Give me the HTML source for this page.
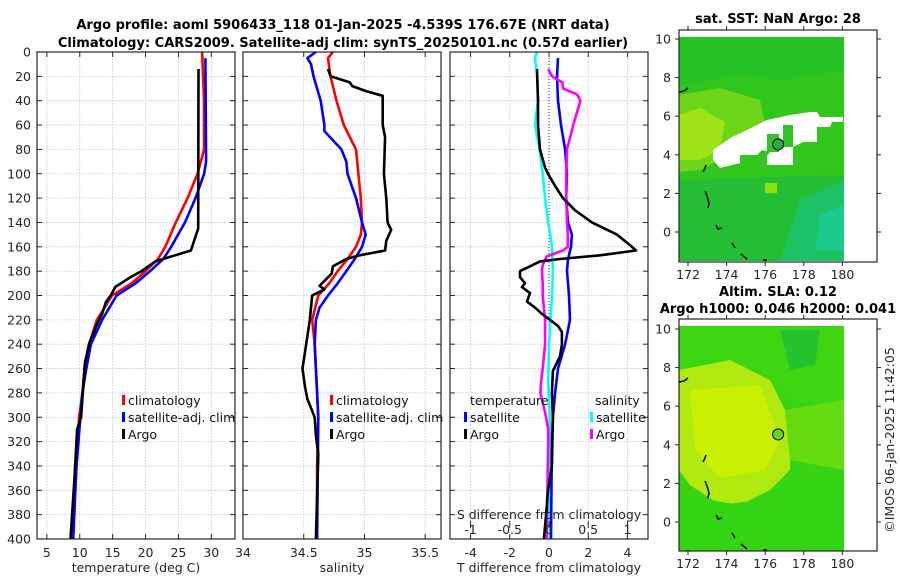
<!DOCTYPE html>
<html><head><meta charset="utf-8">
<style>
html,body{margin:0;padding:0;background:#fff;}
svg{display:block;font-family:"DejaVu Sans","Liberation Sans",sans-serif;}
.t{font-size:12.5px;fill:#262626;}
.b{font-size:13px;font-weight:bold;fill:#000;}
</style></head>
<body>
<svg id="fig" width="900" height="580" viewBox="0 0 900 580">
<text class="b" x="343" y="29" text-anchor="middle">Argo profile: aoml 5906433_118 01-Jan-2025 -4.539S 176.67E (NRT data)</text>
<text class="b" x="343" y="47" text-anchor="middle">Climatology: CARS2009. Satellite-adj clim: synTS_20250101.nc (0.57d earlier)</text>
<text class="b" x="778" y="23" text-anchor="middle">sat. SST: NaN Argo: 28</text>
<text class="b" x="778" y="296" text-anchor="middle">Altim. SLA: 0.12</text>
<text class="b" x="778" y="313" text-anchor="middle">Argo h1000: 0.046 h2000: 0.041</text>
<text class="t" transform="translate(894,440) rotate(-90)" text-anchor="middle">©IMOS 06-Jan-2025 11:42:05</text>
<g id="plots"></g>
<g id="maps"></g>
</svg>
<script>
// ---- Data (depth in m) ----
const depthTicks = [0,20,40,60,80,100,120,140,160,180,200,220,240,260,280,300,320,340,360,380,400];
const tempTicks = [5,10,15,20,25,30];
const salTicks = [34,34.5,35,35.5];
const tdiffTicks = [-4,-2,0,2,4];
const sdiffTicks = [-1,-0.5,0,0.5,1];
const sdiffTickLabels = ['-1','-0.5','0','0.5','1'];

const tClimDepth = [0,40,80,100,120,140,160,170,180,190,200,220,240,260,280,300,340,400];
const tClim      = [28.6,28.9,28.9,27.9,26.4,24.6,23.0,21.9,20.0,17.9,14.9,12.6,11.4,10.7,10.4,9.9,9.5,8.9];
const tSatDepth  = [5,90,100,120,140,160,170,180,190,200,220,240,260,280,300,340,400];
const tSat       = [29.1,29.2,28.9,27.6,26.0,23.9,22.7,20.7,18.5,15.6,13.4,11.7,11.0,10.4,10.1,9.5,9.0];
const tArgoDepth = [14,145,163,168,172,180,185,193,200,205,215,225,240,255,300,310,350,400];
const tArgo      = [28.05,28.0,26.9,23.9,21.5,19.4,17.7,15.4,14.7,14.0,13.4,12.5,11.4,10.8,10.2,9.6,9.2,8.6];

const sClimDepth = [0,5,20,40,60,80,100,120,140,150,160,170,180,190,200,220,240,260,280,300,340,400];
const sClim      = [34.74,34.70,34.72,34.77,34.83,34.93,34.95,34.97,34.98,34.97,34.93,34.86,34.78,34.71,34.62,34.57,34.59,34.60,34.61,34.62,34.61,34.61];
const sSatDepth  = [0,5,10,20,40,60,65,80,90,100,120,140,150,160,170,180,190,200,210,220,240,300,400];
const sSat       = [34.60,34.53,34.56,34.58,34.64,34.67,34.67,34.81,34.85,34.86,34.93,34.98,35.01,34.98,34.92,34.85,34.78,34.70,34.63,34.60,34.59,34.62,34.61];
const sArgoDepth = [14,20,25,28,32,36,60,70,100,120,140,146,155,163,167,170,176,182,188,192,195,200,220,240,260,275,285,300,315,330,400];
const sArgo      = [34.70,34.72,34.88,34.90,35.01,35.15,35.15,35.17,35.16,35.18,35.19,35.22,35.18,35.17,34.96,34.85,34.74,34.73,34.67,34.63,34.67,34.57,34.55,34.52,34.49,34.51,34.53,34.59,34.60,34.62,34.60];

const dTArgoDepth = [14,40,60,80,95,100,110,120,130,140,150,160,163,167,170,172,176,180,185,190,193,198,205,210,215,225,230,240,250,262,280,300,340,360,380,400];
const dTArgo      = [-0.61,-0.56,-0.56,-0.46,-0.2,-0.05,0.31,0.71,1.33,2.19,3.47,4.23,4.44,2.6,0.56,-0.46,-0.97,-1.48,-1.48,-1.22,-1.38,-0.97,-1.12,-0.71,-0.36,0.46,0.66,0.66,0.56,0.2,0.15,0.2,0.15,-0.05,-0.15,-0.26];
const dTSatDepth  = [5,20,40,60,80,100,120,140,150,160,170,180,200,220,240,260,280,300,320,400];
const dTSat       = [0.46,0.41,0.46,0.61,0.82,0.92,0.87,0.97,1.17,1.12,0.97,0.92,1.02,1.07,0.82,0.46,0.31,0.2,0.15,0.1];
const dSSatDepth  = [0,5,20,40,60,80,100,120,140,160,180,200,240,270,300,400];
const dSSat       = [-0.15,-0.18,-0.15,-0.14,-0.18,-0.12,-0.08,-0.05,-0.01,0.04,0.05,0.04,0.0,-0.01,0.01,0.01];
const dSArgoDepth = [14,20,25,30,35,40,60,80,100,120,140,150,160,163,168,175,180,190,200,220,240,260,270,280,296,310,320,400];
const dSArgo      = [-0.01,0.04,0.17,0.18,0.36,0.40,0.31,0.23,0.22,0.22,0.23,0.24,0.24,0.18,-0.03,-0.08,-0.09,-0.08,-0.08,-0.05,-0.05,-0.08,-0.10,-0.11,-0.05,-0.01,-0.01,-0.03];

const lonTicks = [172,174,176,178,180];
const latTicks = [0,2,4,6,8,10];

// ---- helpers ----
const NS='http://www.w3.org/2000/svg';
const plots=document.getElementById('plots');
const maps=document.getElementById('maps');
function mk(tag,attrs,parent){const e=document.createElementNS(NS,tag);for(const k in attrs)e.setAttribute(k,attrs[k]);(parent||plots).appendChild(e);return e;}
const Y0=52,Y1=539;
function yD(d){return Y0+(d/400)*(Y1-Y0);}
function xScale(x0,x1,v0,v1){return v=>x0+(v-v0)/(v1-v0)*(x1-x0);}

const panels=[
 {x0:37,x1:235,v0:3.5,v1:33.6,ticks:tempTicks,name:'temperature-panel'},
 {x0:243,x1:441,v0:34,v1:35.63,ticks:salTicks,name:'salinity-panel'},
 {x0:450,x1:648,v0:-5.05,v1:5.05,ticks:tdiffTicks,name:'difference-panel'}
];
panels.forEach((p,pi)=>{
  p.sx=xScale(p.x0,p.x1,p.v0,p.v1);
  const g=mk('g',{});
  
  
  p.g=g;
  p.ticks.forEach(v=>{const x=p.sx(v);
    const l=mk('line',{x1:x,x2:x,y1:Y0,y2:Y1,stroke:'#b8c4e8','stroke-width':0.8,'stroke-dasharray':'1.5,1.5'},g);
    
    mk('line',{x1:x,x2:x,y1:Y1,y2:Y1-5,stroke:'#262626'},g);mk('line',{x1:x,x2:x,y1:Y0,y2:Y0+5,stroke:'#262626'},g);
    const t=mk('text',{x:x,y:557,'text-anchor':'middle',class:'t'},g);t.textContent=String(v);
    
  });
  depthTicks.forEach(d=>{const y=yD(d);
    const l=mk('line',{x1:p.x0,x2:p.x1,y1:y,y2:y,stroke:'#b8c4e8','stroke-width':0.8,'stroke-dasharray':'1.5,1.5'},g);
    
    mk('line',{x1:p.x0,x2:p.x0+5,y1:y,y2:y,stroke:'#262626'},g);mk('line',{x1:p.x1,x2:p.x1-5,y1:y,y2:y,stroke:'#262626'},g);
    if(pi===0){const t=mk('text',{x:31,y:y+4.5,'text-anchor':'end',class:'t'},g);t.textContent=String(d);
      }
  });
});
const zx=panels[2].sx(0);
mk('line',{x1:zx,x2:zx,y1:Y0,y2:Y1,stroke:'#333','stroke-width':1,'stroke-dasharray':'1,2'},panels[2].g);

function line(p,xs,ds,color,name,scale){
  const sx=scale||p.sx;
  const pts=xs.map((v,i)=>sx(v).toFixed(1)+','+yD(ds[i]).toFixed(1)).join(' ');
  const e=mk('polyline',{points:pts,fill:'none',stroke:color,'stroke-width':2.6,'stroke-linejoin':'round'},p.g);
  
  
}
line(panels[0],tClim,tClimDepth,'#ff0000','temp-climatology-line');
line(panels[0],tSat,tSatDepth,'#0000ff','temp-satellite-line');
line(panels[0],tArgo,tArgoDepth,'#000000','temp-argo-line');
line(panels[1],sClim,sClimDepth,'#ff0000','sal-climatology-line');
line(panels[1],sSat,sSatDepth,'#0000ff','sal-satellite-line');
line(panels[1],sArgo,sArgoDepth,'#000000','sal-argo-line');
const sS=v=>panels[2].sx(v*4);
line(panels[2],dSSat,dSSatDepth,'#00ffff','sdiff-satellite-line',sS);
line(panels[2],dTSat,dTSatDepth,'#0000ff','tdiff-satellite-line');
line(panels[2],dSArgo,dSArgoDepth,'#ff00ff','sdiff-argo-line',sS);
line(panels[2],dTArgo,dTArgoDepth,'#000000','tdiff-argo-line');

sdiffTicks.forEach((v,i)=>{const x=sS(v);
  mk('line',{x1:x,x2:x,y1:521,y2:528,stroke:'#262626'},panels[2].g);
  const t=mk('text',{x:x,y:534,'text-anchor':'middle',class:'t'},panels[2].g);t.textContent=sdiffTickLabels[i];
  
});
{const t=mk('text',{x:549,y:519,'text-anchor':'middle',class:'t'},panels[2].g);t.textContent='S difference from climatology';
 }

panels.forEach(p=>{const r=mk('rect',{x:p.x0,y:Y0,width:p.x1-p.x0,height:Y1-Y0,fill:'none',stroke:'#262626','stroke-width':1.2},p.g);
  });

[['temperature (deg C)',136,'temperature-axis-title'],['salinity',342,'salinity-axis-title'],['T difference from climatology',549,'t-diff-axis-title']].forEach(a=>{
  const t=mk('text',{x:a[1],y:572,'text-anchor':'middle',class:'t'});t.textContent=a[0];
  });

function legend(x,y,color,label,name){
  const g=mk('g',{});
  
  
  mk('rect',{x:x,y:y-10,width:3,height:10,fill:color},g);
  const t=mk('text',{x:x+6,y:y,class:'t',style:'fill:#111'},g);t.textContent=label;
}
legend(122,405,'#ff0000','climatology','legend-temp-climatology');
legend(122,422,'#0000ff','satellite-adj. clim','legend-temp-satellite');
legend(122,439,'#000000','Argo','legend-temp-argo');
legend(330,405,'#ff0000','climatology','legend-sal-climatology');
legend(330,422,'#0000ff','satellite-adj. clim','legend-sal-satellite');
legend(330,439,'#000000','Argo','legend-sal-argo');
{const t=mk('text',{x:470,y:405,class:'t',style:'fill:#111'});t.textContent='temperature';
 
 const t2=mk('text',{x:595,y:405,class:'t',style:'fill:#111'});t2.textContent='salinity';
 }
legend(464,422,'#0000ff','satellite','legend-tdiff-satellite');
legend(464,439,'#000000','Argo','legend-tdiff-argo');
legend(590,422,'#00ffff','satellite','legend-sdiff-satellite');
legend(590,439,'#ff00ff','Argo','legend-sdiff-argo');

// ---- maps ----
function mapPanel(top,lat10y,lat0y,name,base,draw){
  const g=mk('g',{},maps);
  
  
  const lx=v=>688+(v-172)*19.3;
  const ly=v=>lat0y+(v)*(lat10y-lat0y)/10;
  const fy0=top, fy1=top+232;
  mk('rect',{x:679,y:fy0+7,width:165,height:224,fill:base},g);
  draw(g,lx,ly);
  mk('rect',{x:679,y:fy0,width:198,height:232,fill:'none',stroke:'#262626','stroke-width':1.2},g);
  lonTicks.forEach(v=>{const x=lx(v);mk('line',{x1:x,x2:x,y1:fy1,y2:fy1+4,stroke:'#262626'},g);mk('line',{x1:x,x2:x,y1:fy0,y2:fy0-4,stroke:'#262626'},g);
    const t=mk('text',{x:x,y:fy1+17,'text-anchor':'middle',class:'t'},g);t.textContent=String(v);
    });
  latTicks.forEach(v=>{const y=ly(v);mk('line',{x1:679,x2:675,y1:y,y2:y,stroke:'#262626'},g);mk('line',{x1:877,x2:881,y1:y,y2:y,stroke:'#262626'},g);
    const t=mk('text',{x:671,y:y+4.5,'text-anchor':'end',class:'t'},g);t.textContent=String(v);
    });
  [[[679,92],[684,91],[688,88]],[[703,172],[705,168],[706,165]],[[705,191],[707,196],[709,203],[708,208]],[[716,225],[718,229],[722,228]],[[732,243],[735,248]],[[741,254],[747,259]],[[763,260],[767,260]]].forEach(c=>{
    const off=ly(0)-232;
    mk('polyline',{points:c.map(p=>p[0]+','+(p[1]+off)).join(' '),fill:'none',stroke:'#000','stroke-width':1.5},g);});
  const cx=lx(176.67),cy=ly(4.539);
  const c=mk('circle',{cx:cx,cy:cy,r:5.5,fill:'none',stroke:'#111','stroke-width':1.1},g);
  
  return {g,cx,cy};
}
const m1=mapPanel(30,39,232,'sst-map','#30c61c',(g,lx,ly)=>{
  mk('polygon',{points:'679,37 844,37 844,70 780,80 740,75 679,85',fill:'#26c226'},g);
  mk('polygon',{points:'679,95 720,88 760,100 765,125 740,150 700,170 679,172',fill:'#6ed618'},g);
  mk('polygon',{points:'679,115 700,108 725,122 720,150 700,160 679,160',fill:'#9ee218'},g);
  mk('polygon',{points:'679,180 844,175 844,261 679,261',fill:'#24be34'},g);
  mk('polygon',{points:'800,200 844,180 844,261 780,261',fill:'#1ec266'},g);
  mk('polygon',{points:'820,215 844,205 844,250 815,250',fill:'#1cca90'},g);
  mk('rect',{x:765,y:183,width:12,height:10,fill:'#90e010'},g);
  const w=mk('polygon',{points:'713,150 732,137 747,130 767,120 790,115 810,112 817,112 820,117 843,117 843,122 832,122 830,127 817,127 817,142 803,142 793,147 793,165 767,165 767,156 770,152 762,150 757,155 740,155 740,163 720,168 713,160',fill:'#ffffff'},g);
  
  mk('rect',{x:767,y:134,width:12,height:18,fill:'#2ec42a'},g);
  mk('rect',{x:783,y:125,width:10,height:22,fill:'#2ec42a'},g);
});
m1.g.querySelector('circle').setAttribute('fill','#22b040');
const m2=mapPanel(319,329,522,'sla-map','#38d414',(g,lx,ly)=>{
  mk('polygon',{points:'679,327 844,327 844,410 790,400 760,370 700,360 679,380',fill:'#3ed610'},g);
  mk('polygon',{points:'679,370 730,360 770,380 790,420 790,470 760,500 720,505 690,485 679,470',fill:'#b0ea10'},g);
  mk('polygon',{points:'690,390 760,385 780,440 765,470 720,478 695,450',fill:'#c8f000'},g);
  mk('polygon',{points:'785,410 844,400 844,470 790,460',fill:'#64dc10'},g);
  mk('polygon',{points:'679,495 740,505 790,480 844,470 844,551 679,551',fill:'#32d414'},g);
  mk('polygon',{points:'780,330 820,330 815,365 790,370',fill:'#24c430'},g);
});
m2.g.querySelector('circle').setAttribute('fill','#60d818');
</script>
</body></html>
